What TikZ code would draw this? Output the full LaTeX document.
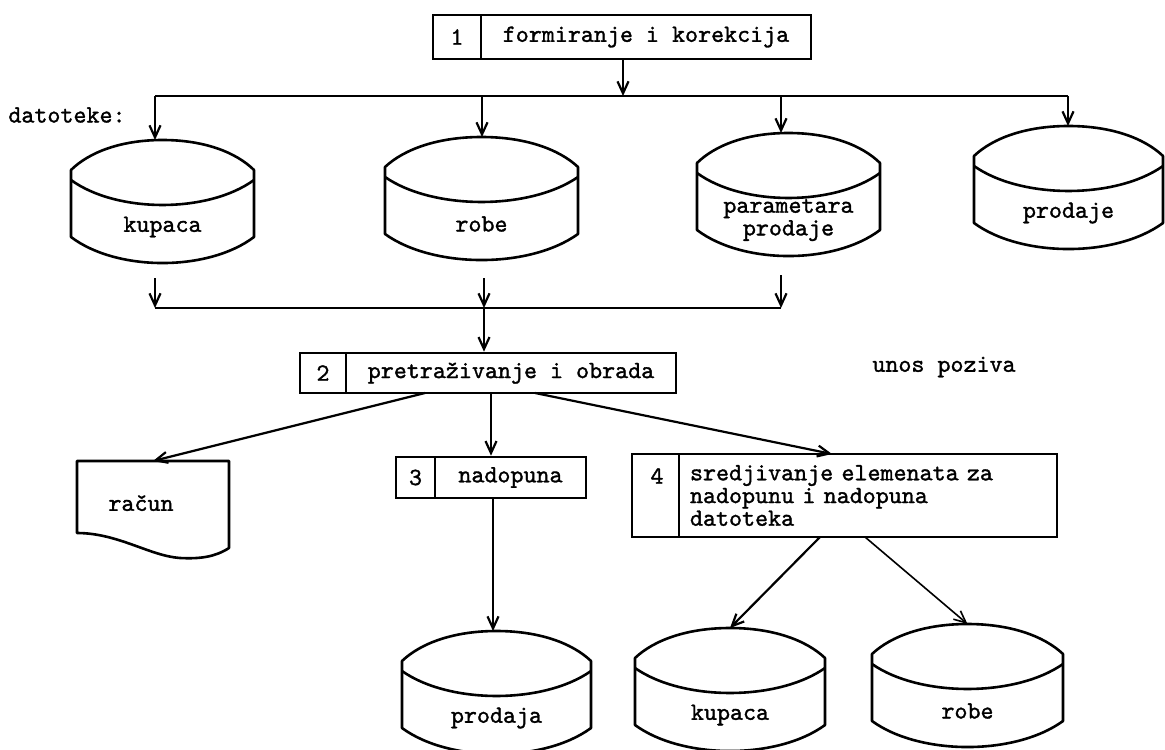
\documentclass[tikz,border=0pt]{standalone}
\usepackage{fontspec}
\usetikzlibrary{arrows.meta,calc}
\newfontfamily\tw{lmmono10-regular.otf}[FakeBold=1.3]

\begin{document}
\begin{tikzpicture}[x=0.5pt,y=-0.5pt,
  tw/.style={font=\tw\fontsize{12.4}{10}\selectfont},
  cell/.style={draw,line width=1.3pt,inner sep=0pt,tw},
  lbl/.style={tw,align=center,inner sep=0pt},
  wire/.style={line width=1.1pt},
  arr/.style={line width=1.1pt,-{Straight Barb[length=6pt,width=5.5pt]}},
  pics/disk/.style 2 args={code={
    \draw[line width=1.3pt,line join=round]
      (-#1,97) -- (-#1,30)
      .. controls ({-0.8*#1},12) and ({-0.45*#1},0) .. (0,0)
      .. controls ({0.45*#1},0) and ({0.8*#1},12) .. (#1,30)
      -- (#1,97)
      .. controls ({0.5*#1},131.7) and ({-0.5*#1},131.7) .. cycle;
    \draw[line width=1.3pt]
      (-#1,40) .. controls ({-0.5*#1},73.3) and ({0.5*#1},73.3) .. (#1,40);
    \coordinate (-top) at (0,0);
    \node[lbl] (-t) at (0,87) {#2};
  }}
]
\clip (0,0) rectangle (1165,749);
\fill[white] (0,0) rectangle (1165,749);

% process 1
\node[cell,minimum width=24pt,minimum height=22pt] (b1n) at (457,37) {1};
\node[cell,minimum width=165pt,minimum height=22pt] (b1t) at (646,37) {formiranje i korekcija};

\node[tw,anchor=west,inner sep=0pt] (dat) at (8,115) {datoteke:};

% files, first row
\pic (kupA) at (162.5,140) {disk={91.5}{kupaca}};
\pic (robA) at (481.5,137) {disk={96.5}{robe}};
\pic (parA) at (788.5,133) {disk={91.5}{parametara\\prodaje}};
\pic (proA) at (1068.5,126) {disk={94.5}{prodaje}};

% distribution bus
\coordinate (jL) at (155,96);
\coordinate (jB) at (482,96);
\coordinate (j1) at (623,96);
\coordinate (jC) at (781,96);
\coordinate (jR) at (1068,96);
\draw[wire] (jL) -- (jR);
\draw[arr] (j1 |- b1t.south) -- (j1);
\draw[arr] (jL) -- (jL |- kupA-top);
\draw[arr] (jB) -- (jB |- robA-top);
\draw[arr] (jC) -- (jC |- parA-top);
\draw[arr] (jR) -- (jR |- proA-top);

% collecting bus
\coordinate (s1) at (155,278);
\coordinate (s2) at (484,278);
\coordinate (s3) at (781,275);
\coordinate (k1) at (155,308);
\coordinate (k2) at (484,308);
\coordinate (k3) at (781,308);
\draw[wire] (k1) -- (k3);
\draw[arr] (s1) -- (k1);
\draw[arr] (s2) -- (k2);
\draw[arr] (s3) -- (k3);

% process 2
\node[cell,minimum width=23pt,minimum height=20pt] (b2n) at (323,373) {2};
\node[cell,minimum width=165pt,minimum height=20pt] (b2t) at (511,373) {pretraživanje i obrada};
\draw[arr] (k2) -- (k2 |- b2t.north);

\node[tw,inner sep=0pt] (unos) at (944,367) {unos poziva};

% invoice document
\draw[line width=1.3pt,line join=round]
  (77,461) -- (229,461) -- (229,548)
  .. controls (215,557) and (200,559) .. (180,558)
  .. controls (150,556) and (118,533) .. (77,533) -- cycle;
\node[lbl] (rac) at (141,503) {račun};
\coordinate (rac-top) at (153,461);

% process 3
\node[cell,minimum width=19.5pt,minimum height=20.5pt] (b3n) at (415.5,477.5) {3};
\node[cell,minimum width=75.5pt,minimum height=20.5pt] (b3t) at (510.5,477.5) {nadopuna};

% process 4
\node[cell,minimum width=23.5pt,minimum height=41.5pt] (b4n) at (655.5,495.5) {};
\node[tw,inner sep=0pt] (b4num) at (657,476) {4};
\node[cell,minimum width=189pt,minimum height=41.5pt,text width=178pt,
      inner xsep=5.5pt,align=left] (b4t) at (868,495.5)
  {sredjivanje elemenata za\\nadopunu i nadopuna\\datoteka};

% outputs of process 2
\coordinate (o1) at (425,393);
\coordinate (o2) at (491,393);
\coordinate (o3) at (535,393);
\coordinate (e4) at (832,454);
\draw[arr] (o1) -- (rac-top);
\draw[arr] (o2) -- (o2 |- b3t.north);
\draw[arr] (o3) -- (e4);

% files, second row
\pic (proB) at (496.5,631) {disk={94.5}{prodaja}};
\pic (kupB) at (730,628) {disk={95}{kupaca}};
\pic (robB) at (967.5,624) {disk={95.5}{robe}};

\coordinate (o4) at (493,498);
\coordinate (o5) at (820,537);
\coordinate (o6) at (865,537);
\draw[arr] (o4) -- (o4 |- proB-top);
\draw[arr] (o5) -- (kupB-top);
\draw[arr,line width=0.8pt] (o6) -- (robB-top);
\end{tikzpicture}
\end{document}
